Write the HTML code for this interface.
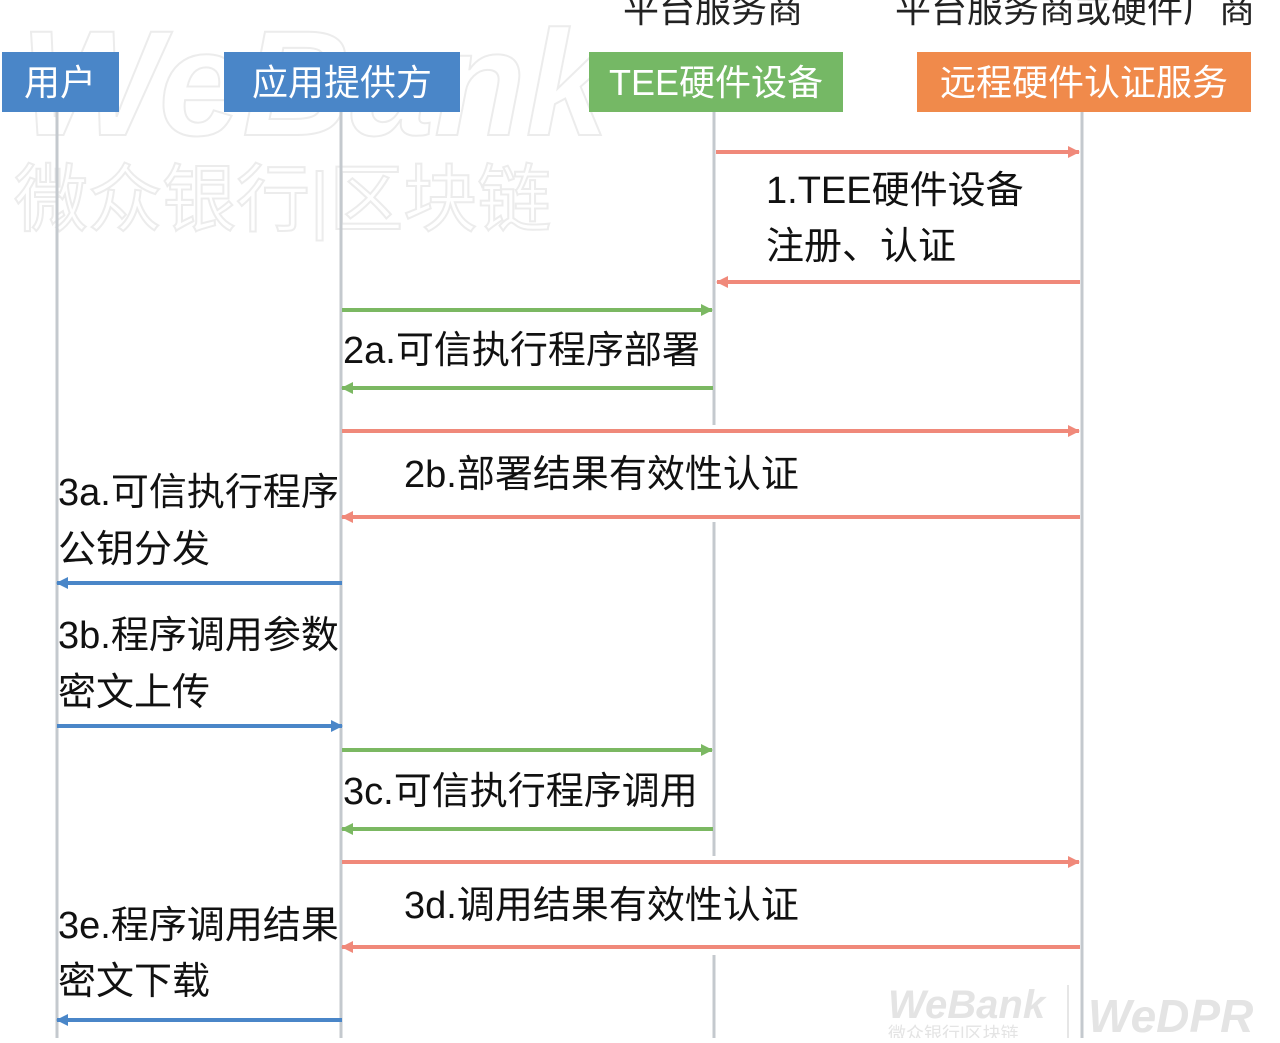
<!DOCTYPE html>
<html><head><meta charset="utf-8"><style>
body{margin:0;background:#fff;}
svg text{font-family:"Liberation Sans","Noto Sans CJK SC",sans-serif;}
</style></head><body>
<svg width="1280" height="1038" viewBox="0 0 1280 1038" xmlns="http://www.w3.org/2000/svg">
<defs>
<marker id="ao" markerWidth="12" markerHeight="12" refX="11" refY="6" orient="auto" markerUnits="userSpaceOnUse"><path d="M0,0 L12,6 L0,12 z" fill="#f0897a"/></marker>
<marker id="ag" markerWidth="12" markerHeight="12" refX="11" refY="6" orient="auto" markerUnits="userSpaceOnUse"><path d="M0,0 L12,6 L0,12 z" fill="#7bb862"/></marker>
<marker id="ab" markerWidth="12" markerHeight="12" refX="11" refY="6" orient="auto" markerUnits="userSpaceOnUse"><path d="M0,0 L12,6 L0,12 z" fill="#4a86c8"/></marker>
</defs>
<!-- watermark -->
<text x="20" y="135" font-size="150" font-style="italic" font-weight="bold" fill="none" stroke="#ececec" stroke-width="2">WeBank</text>
<text x="14" y="225" font-size="74" fill="none" stroke="#ececec" stroke-width="2">微众银行|区块链</text>
<text x="888" y="1018" font-size="40" font-style="italic" font-weight="bold" fill="#e4e4e4">WeBank</text>
<text x="888" y="1040" font-size="18" fill="#e4e4e4">微众银行|区块链</text>
<line x1="1068" y1="985" x2="1068" y2="1038" stroke="#e6e6e6" stroke-width="2"/>
<text x="1088" y="1032" font-size="46" font-style="italic" font-weight="bold" fill="#e4e4e4">WeDPR</text>
<!-- top labels -->
<text x="623" y="22" font-size="36" fill="#222">平台服务商</text>
<text x="895" y="22" font-size="36" fill="#222">平台服务商或硬件厂商</text>
<!-- lifelines -->
<g stroke="#c4c9ce" stroke-width="3">
<line x1="57" y1="112" x2="57" y2="1038"/>
<line x1="341" y1="112" x2="341" y2="1038"/>
<line x1="714" y1="112" x2="714" y2="425"/>
<line x1="714" y1="522" x2="714" y2="856"/>
<line x1="714" y1="955" x2="714" y2="1038"/>
<line x1="1082" y1="112" x2="1082" y2="1038"/>
</g>
<!-- boxes -->
<rect x="2" y="52" width="117" height="60" fill="#4a86c8"/>
<rect x="224" y="52" width="236" height="60" fill="#4a86c8"/>
<rect x="589" y="52" width="254" height="60" fill="#75b865"/>
<rect x="917" y="52" width="334" height="60" fill="#f08a4b"/>
<g font-size="36" fill="#fff" text-anchor="middle">
<text x="60" y="95">用户</text>
<text x="342" y="95">应用提供方</text>
<text x="716" y="95">TEE硬件设备</text>
<text x="1084" y="95">远程硬件认证服务</text>
</g>
<!-- arrows -->
<g stroke-width="4" fill="none">
<line x1="716" y1="152" x2="1079" y2="152" stroke="#f0897a" marker-end="url(#ao)"/>
<line x1="1080" y1="282" x2="717" y2="282" stroke="#f0897a" marker-end="url(#ao)"/>
<line x1="342" y1="310" x2="712" y2="310" stroke="#7bb862" marker-end="url(#ag)"/>
<line x1="713" y1="388" x2="342" y2="388" stroke="#7bb862" marker-end="url(#ag)"/>
<line x1="342" y1="431" x2="1079" y2="431" stroke="#f0897a" marker-end="url(#ao)"/>
<line x1="1080" y1="517" x2="342" y2="517" stroke="#f0897a" marker-end="url(#ao)"/>
<line x1="342" y1="583" x2="57" y2="583" stroke="#4a86c8" marker-end="url(#ab)"/>
<line x1="57" y1="726" x2="342" y2="726" stroke="#4a86c8" marker-end="url(#ab)"/>
<line x1="342" y1="750" x2="712" y2="750" stroke="#7bb862" marker-end="url(#ag)"/>
<line x1="713" y1="829" x2="342" y2="829" stroke="#7bb862" marker-end="url(#ag)"/>
<line x1="342" y1="862" x2="1079" y2="862" stroke="#f0897a" marker-end="url(#ao)"/>
<line x1="1080" y1="947" x2="342" y2="947" stroke="#f0897a" marker-end="url(#ao)"/>
<line x1="342" y1="1020" x2="57" y2="1020" stroke="#4a86c8" marker-end="url(#ab)"/>
</g>
<!-- labels -->
<g font-size="38" fill="#111">
<text x="766" y="203">1.TEE硬件设备</text>
<text x="766" y="259">注册、认证</text>
<text x="343" y="363">2a.可信执行程序部署</text>
<text x="404" y="487">2b.部署结果有效性认证</text>
<text x="58" y="505">3a.可信执行程序</text>
<text x="58" y="562">公钥分发</text>
<text x="58" y="648">3b.程序调用参数</text>
<text x="58" y="705">密文上传</text>
<text x="343" y="804">3c.可信执行程序调用</text>
<text x="404" y="918">3d.调用结果有效性认证</text>
<text x="58" y="938">3e.程序调用结果</text>
<text x="58" y="994">密文下载</text>
</g>
</svg>
</body></html>
